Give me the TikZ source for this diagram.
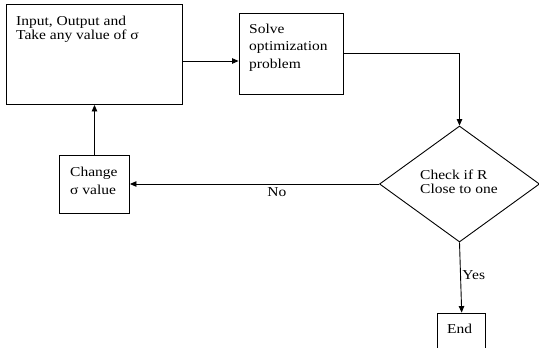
\documentclass[tikz,border=0pt]{standalone}
\usepackage{fontspec}
\setmainfont{Liberation Serif}[FakeStretch=1.14]
\usetikzlibrary{arrows.meta,shapes.geometric}
\tikzset{
  box/.style={draw,line width=0.9pt,inner sep=0pt},
  txt/.style={inner sep=0pt,align=left,font=\fontsize{13.6}{14}\selectfont},
  arr/.style={line width=0.9pt,-{Triangle[length=6.5pt,width=5.5pt]}}
}
\begin{document}
\begin{tikzpicture}[x=1pt,y=-1pt]
\clip (0,0) rectangle (539,348);
\node[box,minimum width=176pt,minimum height=100pt] (input) at (94,54.5) {};
\node[box,minimum width=104pt,minimum height=81pt] (solve) at (291,53.8) {};
\node[box,minimum width=70pt,minimum height=58pt] (change) at (94.5,184) {};
\node[box,shape=diamond,minimum width=160pt,minimum height=116pt] (check) at (459.5,184) {};
\node[box,minimum width=48pt,minimum height=40pt] (end) at (461.7,333) {};

\node[txt,anchor=north west] (inputtext) at (16,15.7) {Input, Output and\\Take any value of σ};
\node[txt,anchor=north west,font=\fontsize{13.6}{17.5}\selectfont] (solvetext) at (249,23.5) {Solve\\optimization\\problem};
\node[txt,anchor=north west,font=\fontsize{13.6}{18}\selectfont] (changetext) at (70,166.7) {Change\\σ value};
\node[txt,anchor=north west] (checktext) at (420,169.7) {Check if R\\Close to one};
\node[txt,anchor=base west] (endtext) at (447,333) {End};

\draw[arr] ([yshift=-6.5pt]input.east) -- ([yshift=-6.5pt]input.east -| solve.west);
\draw[arr] (solve.east) -| (check.north);
\draw[arr] (check.west) -- node[txt,pos=0.41,below,inner sep=3.5pt] (no) {No} (change.east);
\draw[arr] (change.north) -- (change.north |- input.south);
\draw[arr] (check.south) -- node[txt,pos=0.47,right,inner sep=1.5pt] (yes) {Yes} (end.north);
\end{tikzpicture}
\end{document}
